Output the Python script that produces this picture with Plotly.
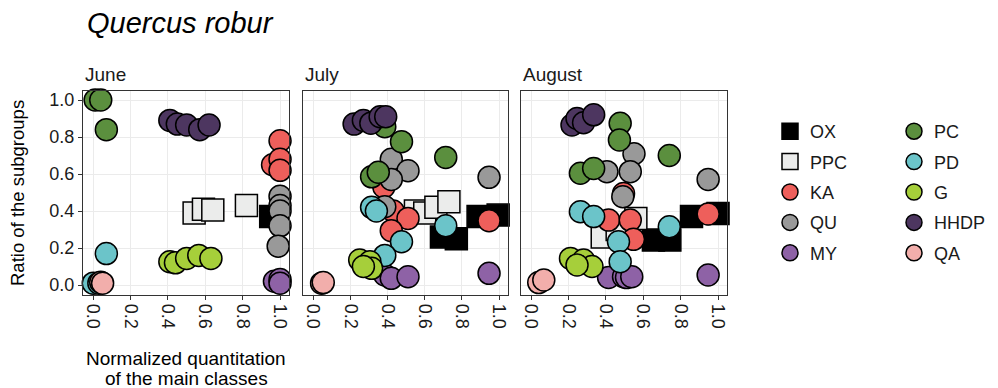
import plotly.graph_objects as go

W, H = 998, 388

months = ["June", "July", "August"]
classes = ["OX", "PPC", "KA", "QU", "MY", "PC", "PD", "G", "HHDP", "QA"]
colors = {
    "OX": "#000000", "PPC": "#EBECEB", "KA": "#EE5F5B", "QU": "#999999",
    "MY": "#8E62A6", "PC": "#5B8F3E", "PD": "#6BC4C9", "G": "#A6CF3A",
    "HHDP": "#4D3660", "QA": "#F2AEAB",
}
symbols = {c: ("square" if c in ("OX", "PPC") else "circle") for c in classes}

# Normalized quantitation (x) and ratio of the subgroups (y), per month and class
june_x = {
    "OX": [0.95], "PPC": [0.54, 0.59, 0.64, 0.82],
    "KA": [1.0, 0.96, 1.0, 1.0], "QU": [1.0, 1.0, 1.0, 1.0, 0.99],
    "MY": [0.97, 1.0, 1.0], "PC": [0.01, 0.04, 0.07],
    "PD": [0.07, 0.0, 0.03], "G": [0.41, 0.44, 0.50, 0.565, 0.63],
    "HHDP": [0.41, 0.45, 0.50, 0.57, 0.62], "QA": [0.04, 0.05],
}
june_y = {
    "OX": [0.37], "PPC": [0.39, 0.41, 0.405, 0.43],
    "KA": [0.78, 0.65, 0.68, 0.62], "QU": [0.48, 0.43, 0.40, 0.32, 0.21],
    "MY": [0.02, 0.03, 0.01], "PC": [1.0, 1.0, 0.84],
    "PD": [0.17, 0.01, 0.01], "G": [0.126, 0.12, 0.144, 0.16, 0.144],
    "HHDP": [0.89, 0.87, 0.865, 0.84, 0.865], "QA": [0.015, 0.01],
}
july_x = {
    "OX": [0.69, 0.77, 0.887, 0.995], "PPC": [0.55, 0.60, 0.66, 0.73],
    "KA": [0.38, 0.43, 0.51, 0.42, 0.946], "QU": [0.42, 0.51, 0.42, 0.385, 0.946],
    "MY": [0.385, 0.42, 0.51, 0.946], "PC": [0.385, 0.475, 0.713, 0.314, 0.35],
    "PD": [0.314, 0.34, 0.475, 0.385, 0.713], "G": [0.25, 0.305, 0.314, 0.27],
    "HHDP": [0.22, 0.27, 0.31, 0.36, 0.39], "QA": [0.045, 0.054],
}
july_y = {
    "OX": [0.26, 0.25, 0.37, 0.378], "PPC": [0.40, 0.39, 0.42, 0.45],
    "KA": [0.53, 0.40, 0.36, 0.294, 0.348], "QU": [0.68, 0.618, 0.571, 0.423, 0.582],
    "MY": [0.054, 0.036, 0.045, 0.063], "PC": [0.856, 0.775, 0.69, 0.585, 0.61],
    "PD": [0.42, 0.40, 0.234, 0.16, 0.32], "G": [0.135, 0.126, 0.09, 0.10],
    "HHDP": [0.87, 0.89, 0.875, 0.91, 0.91], "QA": [0.01, 0.013],
}
august_x = {
    "OX": [0.654, 0.742, 0.858, 1.0], "PPC": [0.38, 0.46, 0.56],
    "KA": [0.494, 0.414, 0.53, 0.547, 0.947], "QU": [0.55, 0.405, 0.53, 0.49, 0.947],
    "MY": [0.414, 0.494, 0.51, 0.538, 0.947], "PC": [0.476, 0.472, 0.739, 0.263, 0.334],
    "PD": [0.263, 0.334, 0.467, 0.476, 0.739], "G": [0.21, 0.28, 0.325, 0.245],
    "HHDP": [0.218, 0.245, 0.28, 0.334], "QA": [0.04, 0.067],
}
august_y = {
    "OX": [0.243, 0.243, 0.37, 0.387], "PPC": [0.26, 0.30, 0.36],
    "KA": [0.495, 0.351, 0.351, 0.247, 0.384], "QU": [0.71, 0.613, 0.613, 0.477, 0.571],
    "MY": [0.041, 0.045, 0.04, 0.045, 0.054], "PC": [0.874, 0.784, 0.70, 0.604, 0.63],
    "PD": [0.396, 0.37, 0.234, 0.126, 0.315], "G": [0.144, 0.135, 0.10, 0.108],
    "HHDP": [0.865, 0.90, 0.877, 0.92], "QA": [0.013, 0.027],
}
month_data = [(june_x, june_y), (july_x, july_y), (august_x, august_y)]

tick_vals = [0.0, 0.2, 0.4, 0.6, 0.8, 1.0]
tick_text = ["0.0", "0.2", "0.4", "0.6", "0.8", "1.0"]


def px(v):
    return v / W


def py(v):
    return 1 - v / H


panels_px = [(83, 289), (303, 508), (521, 727)]
top_px, bottom_px = 91, 295
FONT = "Liberation Sans, Arial, sans-serif"
INK = "#333333"

fig = go.Figure()

for i, (xs, ys) in enumerate(month_data):
    ax = "" if i == 0 else str(i + 1)
    for c in classes:
        col = 0 if classes.index(c) < 5 else 1
        fig.add_trace(go.Scatter(
            x=xs[c], y=ys[c], mode="markers", name=c,
            xaxis="x" + ax, yaxis="y" + ax,
            legend="legend" if col == 0 else "legend2",
            legendgroup=c, showlegend=(i == 0), cliponaxis=False,
            marker=dict(symbol=symbols[c], size=22, color=colors[c],
                        line=dict(color="#000000", width=1.5)),
        ))

axis_common = dict(
    range=[-0.054, 1.049], tickvals=tick_vals, ticktext=tick_text,
    showgrid=True, gridcolor="#EBEBEB", gridwidth=1.2, zeroline=False,
    showline=True, mirror=True, linecolor=INK, linewidth=1.4,
    ticks="outside", ticklen=4, tickwidth=1.2, tickcolor=INK,
    tickfont=dict(family=FONT, size=18, color="#1a1a1a"),
)

layout = dict(
    width=W, height=H, margin=dict(l=0, r=0, t=0, b=0),
    plot_bgcolor="white", paper_bgcolor="white",
    font=dict(family=FONT, color="#1a1a1a"),
)
for i, (l, r) in enumerate(panels_px):
    ax = "" if i == 0 else str(i + 1)
    layout["xaxis" + ax] = dict(axis_common, domain=[px(l), px(r)], tickangle=90,
                                anchor="y" + ax, range=[-0.055, 1.048])
    yax = dict(axis_common, domain=[py(bottom_px), py(top_px)], anchor="x" + ax)
    if i > 0:
        yax["showticklabels"] = False
        yax["ticks"] = ""
        yax["matches"] = "y"
    layout["yaxis" + ax] = yax

legend_common = dict(
    orientation="v", xanchor="left", yanchor="top", y=py(113),
    font=dict(family=FONT, size=18, color="#1a1a1a"),
    tracegroupgap=4, bgcolor="rgba(0,0,0,0)", itemclick=False,
)
layout["legend"] = dict(legend_common, x=px(770))
layout["legend2"] = dict(legend_common, x=px(894))

x_title_center = px((panels_px[0][0] + panels_px[0][1]) / 2)
annotations = [
    dict(text="<i>Quercus robur</i>", x=px(85), y=py(5), xanchor="left", yanchor="top",
         font=dict(family=FONT, size=29, color="#000000")),
    dict(text="Ratio of the subgroups", x=px(17), y=py((top_px + bottom_px) / 2),
         textangle=-90, xanchor="center", yanchor="middle",
         font=dict(family=FONT, size=18.5, color="#000000")),
    dict(text="Normalized quantitation", x=x_title_center, y=py(358),
         xanchor="center", yanchor="middle",
         font=dict(family=FONT, size=19, color="#000000")),
    dict(text="of the main classes", x=x_title_center, y=py(378),
         xanchor="center", yanchor="middle",
         font=dict(family=FONT, size=19, color="#000000")),
]
for m, (l, r) in zip(months, panels_px):
    annotations.append(dict(text=m, x=px(l), y=py(87), xanchor="left", yanchor="bottom",
                            font=dict(family=FONT, size=19, color="#1a1a1a")))
for a in annotations:
    a.update(xref="paper", yref="paper", showarrow=False)
layout["annotations"] = annotations

fig.update_layout(**layout)
fig.write_html("out.html")
